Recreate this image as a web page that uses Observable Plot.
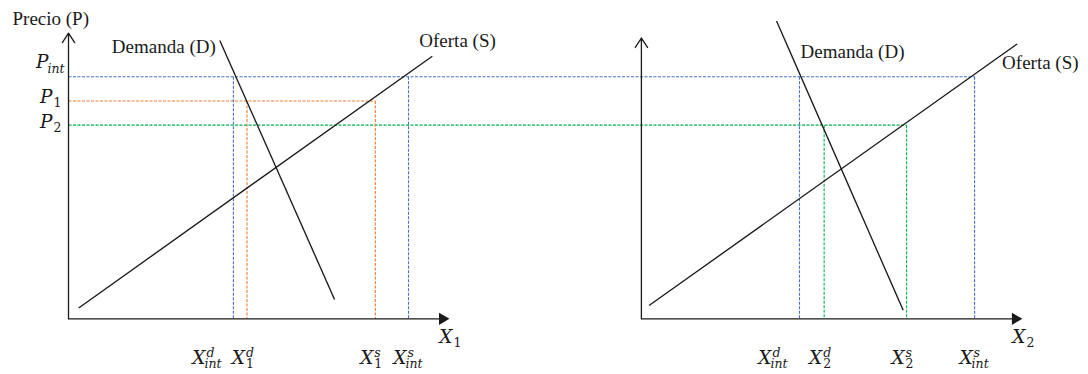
<!DOCTYPE html>
<html lang="es">
<head>
<meta charset="utf-8">
<script src="https://cdn.jsdelivr.net/npm/d3@7"></script>
<script src="https://cdn.jsdelivr.net/npm/@observablehq/plot@0.6"></script>
<style>
  html, body { margin: 0; padding: 0; background: #fff; }
  #chart { width: 1088px; height: 374px; }
</style>
</head>
<body>
<div id="chart"></div>
<script>
// Price levels on the vertical axis: P_int, P_1, P_2
const priceNames = ["int", "1", "2"];
const priceLevels = [10, 9, 8];
const priceColors = ["#4472c4", "#ed7d31", "#00b050"];

// Market 1: demand and supply segments, endpoints as [quantity, price]
const demand1 = [[8.9, 11.5], [15.65, 0.8]];
const supply1 = [[0.6, 0.45], [21.4, 10.85]];
// Market 2
const demand2 = [[7.95, 12.3], [15.4, 0.35]];
const supply2 = [[0.45, 0.55], [22.1, 11.35]];

// Quantities demanded / supplied at each price (market 1)
const qSup1 = ["d", "d", "s", "s"];
const qSub1 = ["int", "1", "1", "int"];
const qValues1 = [9.7, 10.5, 18.05, 20.0];
const qPrices1 = [10, 9, 9, 10];

// Quantities demanded / supplied at each price (market 2)
const qSup2 = ["d", "d", "s", "s"];
const qSub2 = ["int", "2", "2", "int"];
const qValues2 = [9.3, 10.75, 15.6, 19.6];
const qPrices2 = [10, 8, 8, 10];

// Where each market's quantity axis starts, and axis extents
const marketOffsets = [0, 33.7];
const axisTop = [11.8, 11.6];
const axisEnd = 22;
const axisNames = ["1", "2"];

const serif = "Liberation Serif, Times New Roman, serif";
const mathFont = "DejaVu Serif, serif";
const ink = "#1a1a1a";

const markets = [
  {demand: demand1, supply: supply1, sup: qSup1, sub: qSub1, q: qValues1, p: qPrices1},
  {demand: demand2, supply: supply2, sup: qSup2, sub: qSub2, q: qValues2, p: qPrices2}
];

const colorOf = p => priceColors[priceLevels.indexOf(p)];

const quantities = markets.flatMap((m, i) => m.q.map((q, j) => ({
  x: marketOffsets[i] + q, y: 0, p: m.p[j], sup: m.sup[j], sub: m.sub[j], color: colorOf(m.p[j])
})));

const priceRules = priceLevels.map((p, i) => ({
  x: 0, y: p, sub: priceNames[i], color: priceColors[i],
  x2: d3.max(quantities.filter(d => d.p === p), d => d.x)
}));

const curves = markets.flatMap((m, i) => [m.demand, m.supply].map(seg => ({
  x1: seg[0][0] + marketOffsets[i], y1: seg[0][1],
  x2: seg[1][0] + marketOffsets[i], y2: seg[1][1]
})));

const axes = marketOffsets.map((o, i) => ({x0: o, top: axisTop[i], x: o + axisEnd, y: 0, sub: axisNames[i]}));

// Italic base letter with a superscript and/or subscript beside it
function scripted(data, {base, dx, dyBase, dySup, dySub}) {
  const common = {x: "x", y: "y", fontFamily: mathFont, fill: ink};
  const marks = [
    Plot.text(data, {...common, text: () => base, textAnchor: "end", dx, dy: dyBase, fontSize: 18.5, fontStyle: "italic"})
  ];
  const withSup = data.filter(d => d.sup);
  if (withSup.length) marks.push(Plot.text(withSup, {...common, text: "sup", textAnchor: "start", dx: dx + 1, dy: dySup, fontSize: 12.5, fontStyle: "italic"}));
  const letters = data.filter(d => /\D/.test(d.sub));
  const digits = data.filter(d => !/\D/.test(d.sub));
  if (letters.length) marks.push(Plot.text(letters, {...common, text: "sub", textAnchor: "start", dx: dx - 1, dy: dySub, fontSize: 12.5, fontStyle: "italic"}));
  if (digits.length) marks.push(Plot.text(digits, {...common, text: "sub", textAnchor: "start", dx: dx + 1, dy: dySub, fontSize: 12.5}));
  return marks;
}

function curveLabel(point, offset, text, textAnchor, dx, dy) {
  return Plot.text([text], {
    x: () => point[0] + offset, y: () => point[1], text: d => d,
    textAnchor, dx, dy, fontFamily: serif, fontSize: 19, fill: ink
  });
}

const dash = {strokeWidth: 1.1, strokeDasharray: "3,1.5"};

const chart = Plot.plot({
  width: 1088,
  height: 374,
  margin: 0,
  x: {domain: [-4, 60], axis: null},
  y: {domain: [-2.3, 13.15], axis: null},
  color: {type: "identity"},
  style: {background: "white", overflow: "visible"},
  marks: [
    // dashed price levels and quantity drop lines
    Plot.link(priceRules, {x1: "x", x2: "x2", y1: "y", y2: "y", stroke: "color", ...dash}),
    Plot.link(quantities, {x1: "x", x2: "x", y1: "p", y2: 0, stroke: "color", ...dash}),

    // axes
    Plot.arrow(axes, {x1: "x0", y1: 0, x2: "x0", y2: "top", stroke: ink, strokeWidth: 1.3, headLength: 13, headAngle: 66}),
    Plot.link(axes, {x1: "x0", y1: 0, x2: d => d.x - 0.2, y2: 0, stroke: ink, strokeWidth: 1.3}),
    Plot.dot(axes, {x: "x", y: 0, symbol: "triangle", r: 4.5, rotate: 90, fill: ink, stroke: "none"}),

    // demand and supply
    Plot.link(curves, {x1: "x1", y1: "y1", x2: "x2", y2: "y2", stroke: ink, strokeWidth: 1.35}),

    // curve names
    curveLabel(demand1[0], marketOffsets[0], "Demanda (D)", "end", -4, 6),
    curveLabel(supply1[1], marketOffsets[0], "Oferta (S)", "start", -13, -15.5),
    curveLabel(demand2[0], marketOffsets[1], "Demanda (D)", "start", 24, 31),
    curveLabel(supply2[1], marketOffsets[1], "Oferta (S)", "start", -15, 19),

    // vertical axis title
    Plot.text(["Precio (P)"], {x: () => 0, y: () => axisTop[0], text: d => d, textAnchor: "start", dx: -56, dy: -14, fontFamily: serif, fontSize: 19, fill: ink}),

    // price labels
    ...scripted(priceRules.filter(d => d.sub === "int"), {base: "P", dx: -20, dyBase: -15, dySup: 0, dySub: -8}),
    ...scripted(priceRules.filter(d => d.sub !== "int"), {base: "P", dx: -16, dyBase: -3.4, dySup: 0, dySub: 2.5}),

    // quantity labels under the axis
    ...scripted(quantities.filter(d => d.sup === "d" && d.sub === "int"), {base: "X", dx: -28, dyBase: 39, dySup: 34, dySub: 45}),
    ...scripted(quantities.filter(d => !(d.sup === "d" && d.sub === "int")), {base: "X", dx: -2, dyBase: 39, dySup: 34, dySub: 45}),

    // quantity axis names
    ...scripted(axes, {base: "X", dx: 10, dyBase: 18, dySup: 0, dySub: 24})
  ]
});

document.getElementById("chart").appendChild(chart);
</script>
</body>
</html>
